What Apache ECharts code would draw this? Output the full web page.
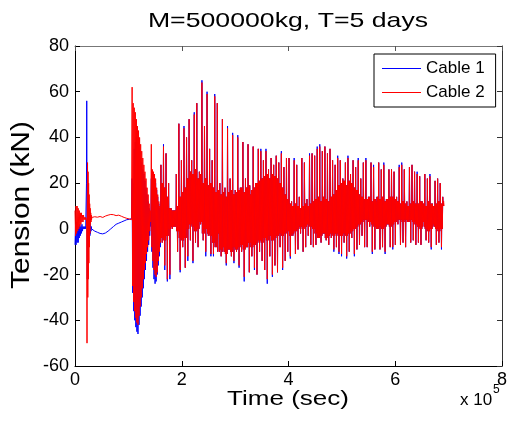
<!DOCTYPE html>
<html><head><meta charset="utf-8">
<script src="https://cdn.jsdelivr.net/npm/echarts@6/dist/echarts.min.js"></script>
<style>html,body{margin:0;padding:0;background:#fff}#c{width:511px;height:421px}</style>
</head><body><div id="c"></div><script>
// ---- data (time in seconds, tension in kN) ----
const xTickLabels = ['0', '2', '4', '6', '8'];      // × 10^5 s
const yTickValues = [-60, -40, -20, 0, 20, 40, 60, 80];
const seriesNames = ['Cable 1', 'Cable 2'];
const titleText = 'M=500000kg, T=5 days';
const xName = 'Time (sec)';
const yName = 'Tension (kN)';

// segment start times and sample steps (s)
const segStart = [0, 21000, 32000, 103000, 143000, 161000];
const segStep  = [1000, 500, 5000, 1000, 1000, 800];

// secondary (small) oscillation inside each big cycle of the steady part
const bandHigh = [
  20, 18, 14, 9, 8, 8, 10, 14, 16, 18,
  22, 25, 24, 26, 22, 24, 20, 22, 19, 20,
  18, 16, 17, 15, 16, 14, 16, 17, 15, 16,
  17, 18, 16, 18, 19, 17, 18, 20, 21, 22,
  23, 24, 22, 24, 23, 22, 20, 18, 15, 13,
  11, 10, 11, 10, 9, 10, 11, 10, 11, 12,
  13, 14, 12, 14, 13, 12, 14, 15, 17, 19,
  20, 21, 19, 21, 20, 18, 17, 15, 14, 13,
  13, 14, 12, 13, 14, 13, 14, 12, 13, 14,
  14, 13, 12, 11, 12, 11, 10, 11, 12, 11,
  11, 12, 11, 10, 12, 11, 10, 11, 12, 11, 12];
const bandLow = [
  -4, -5, -3, 0, 1, 1, -1, -4, -5, -4,
  0, 2, 1, -1, 0, 3, -2, 0, -2, -3,
  -6, -8, -10, -9, -10, -11, -9, -10, -8, -9,
  -8, -7, -9, -8, -6, -8, -7, -6, -5, -6,
  -4, -5, -3, -5, -4, -3, -2, -3, -2, -1,
  -3, -2, -1, 0, 1, 0, 1, 2, 1, 0,
  -2, -4, -3, -2, -4, -3, -2, -3, -2, -3,
  -3, -2, -3, -2, -1, 0, 1, 2, 3, 4,
  4, 3, 2, 1, 0, 1, 0, 1, 2, 1,
  2, 3, 4, 4, 3, 4, 3, 4, 3, 2,
  1, 0, 1, 0, -1, 0, 1, 0, -1, 0, 10];

// Cable 1 (blue)
const cable1A = [-7, 2, -7, 3, -6, 2, -6, 1, -4, 2, -3, 1, -2, 2, -1, 1, 0, 1, 0, 1, 0];
const cable1B = [0, 20, 56, 10, -22, 12, -15, 9, -10, 6, -7, 4, -5, 3, -3, 2, -2, 1, -1, 1, 0, 0, 0];
const cable1C = [0, -1, -1.5, -2, -2.2, -1.8, -1, 0, 1, 2, 2.5, 3, 3.5, 4, 4.2];
const cable1D = [4.2, 4.3, 4.4, 4.5, 22, -28, 20, -36, 35, -40, 38, -43, 40, -45, 38, -46, 36, -42, 34, -38, 31, -34, 29, -30, 26, -26, 24, -22, 21, -18, 18, -14, 15, -10, 12, -7, 9, -3, 6, 1];
const cable1E = [22, -10, 24, -17, 23, -22, 22, -24, 20, -23, 17, -20, 14, -16, 11, -12, 9, -8];
const cable1Peaks = [
  28, 37, 33, 20, 9, 8, 24, 46, 30, 45,
  40, 48, 30, 51, 55, 25, 65, 45, 60, 35,
  30, 59, 55, 20, 48, 18, 45, 22, 42, 17,
  41, 18, 38, 22, 37, 15, 36, 20, 35, 35,
  30, 35, 26, 31, 28, 32, 29, 34, 27, 31,
  31, 12, 31, 28, 14, 31, 29, 13, 33, 33,
  32, 36, 37, 34, 36, 33, 35, 30, 28, 32,
  30, 22, 29, 32, 24, 30, 27, 31, 22, 29,
  31, 14, 29, 28, 12, 29, 26, 29, 13, 26,
  26, 25, 14, 28, 29, 26, 12, 27, 28, 25,
  25, 23, 12, 24, 22, 24, 11, 21, 22, 20, 14];
const cable1Troughs = [
  -6, -18, -23, -22, 0, 1, -10, -19, -8, -17,
  -14, -5, -15, -6, -8, 2, -5, -12, -3, -12,
  -12, -4, -2, -12, -8, -16, -9, -12, -15, -10,
  -17, -10, -23, -8, -19, -12, -18, -20, -10, -14,
  -18, -24, -12, -21, -16, -19, -8, -18, -14, -10,
  -13, -3, -11, -9, -2, -10, -8, -3, -7, -8,
  -7, -4, -6, -2, -5, -7, -4, -10, -8, -11,
  -12, -6, -13, -10, -4, -12, -9, -7, -3, -8,
  -8, 1, -11, -9, 0, -9, -8, -11, 2, -8,
  -9, -7, 2, -7, -6, -8, 3, -6, -5, -7,
  -6, -7, 3, -5, -6, -9, 2, -7, -6, -9, 12];

// Cable 2 (red)
const cable2A = [8, -3, 10, -2, 10, -1, 9, 0, 8, 1, 7, 2, 7, 3, 6, 3, 6, 4, 5, 4, 5];
const cable2B = [5, 4, 0, -50, 10, 29, -30, 25, -22, 20, -15, 15, -8, 11, -2, 9, 2, 7, 3, 6, 4, 5, 5];
const cable2C = [5, 5.3, 5.1, 5.4, 5.0, 5.6, 6.0, 6.3, 6.2, 5.8, 6.0, 5.5, 5.0, 4.6, 4.3];
const cable2D = [4.3, 4.2, 4.0, 4.0, 62, -25, 55, -32, 53, -36, 51, -39, 48, -41, 45, -42, 43, -38, 40, -34, 37, -30, 34, -26, 31, -22, 28, -18, 25, -15, 22, -11, 18, -8, 15, -5, 11, -1, 8, 3];
const cable2E = [37, -8, 26, -14, 25, -18, 24, -20, 22, -21, 18, -19, 15, -14, 12, -10, 10, -6];
const cable2Peaks = [
  28, 36, 33, 20, 9, 8, 24, 46, 30, 44,
  40, 48, 30, 50, 55, 25, 64, 45, 59, 35,
  30, 58, 55, 20, 48, 18, 44, 22, 41, 17,
  40, 18, 38, 22, 37, 15, 36, 20, 35, 34,
  30, 34, 26, 31, 28, 32, 29, 33, 27, 31,
  31, 12, 30, 28, 14, 31, 29, 13, 32, 33,
  32, 35, 36, 34, 36, 33, 35, 30, 28, 31,
  30, 22, 29, 31, 24, 30, 27, 30, 22, 29,
  30, 14, 29, 27, 12, 29, 26, 28, 13, 26,
  26, 25, 14, 27, 28, 26, 12, 27, 28, 25,
  24, 23, 12, 24, 22, 23, 11, 21, 22, 20, 14];
const cable2Troughs = [
  -6, -16, -22, -20, 0, 1, -10, -18, -8, -17,
  -12, -5, -14, -6, -8, 2, -5, -10, -3, -11,
  -11, -4, -2, -12, -8, -15, -9, -12, -14, -10,
  -16, -10, -21, -8, -19, -12, -17, -20, -10, -14,
  -18, -22, -12, -20, -16, -19, -8, -17, -14, -10,
  -12, -3, -11, -9, -2, -10, -8, -3, -7, -8,
  -7, -4, -6, -2, -5, -7, -4, -9, -8, -10,
  -11, -6, -12, -10, -4, -11, -9, -7, -3, -8,
  -8, 1, -10, -9, 0, -9, -8, -10, 2, -8,
  -8, -7, 2, -7, -6, -8, 3, -6, -5, -7,
  -6, -7, 3, -5, -6, -8, 2, -7, -6, -8, 10];

// ---- build series points ----
function build(segs, peaks, troughs) {
  const out = [];
  segs.forEach((vals, s) => vals.forEach((v, i) => out.push([segStart[s] + i * segStep[s], v])));
  const t0 = segStart[5], dt = segStep[5];
  peaks.forEach((p, j) => {
    const base = t0 + j * 6 * dt;
    const last = j === peaks.length - 1;
    out.push([base, p]);
    out.push([base + dt, bandLow[j]]);
    out.push([base + 2 * dt, bandHigh[j]]);
    out.push([base + 3 * dt, troughs[j]]);
    if (!last) {
      out.push([base + 4 * dt, bandHigh[j]]);
      out.push([base + 5 * dt, bandLow[j]]);
    }
  });
  return out;
}
const data1 = build([cable1A, cable1B, cable1C, cable1D, cable1E], cable1Peaks, cable1Troughs);
const data2 = build([cable2A, cable2B, cable2C, cable2D, cable2E], cable2Peaks, cable2Troughs);

const FONT = 'Liberation Sans, Arial, sans-serif';
const chart = echarts.init(document.getElementById('c'), null, {renderer: 'canvas'});
const xCommon = {type: 'value', min: 0, max: 800000, interval: 200000, splitLine: {show: false}};
const yCommon = {type: 'value', min: -60, max: 80, interval: 20, splitLine: {show: false}};
chart.setOption({
  animation: false,
  backgroundColor: '#fff',
  grid: {left: 75, right: 9, top: 46, bottom: 55, containLabel: false},
  legend: {
    orient: 'vertical', left: 374, top: 54,
    padding: [6, 11, 6, 8], itemGap: 7, itemWidth: 39, itemHeight: 1,
    borderColor: '#000', borderWidth: 1, backgroundColor: '#fff',
    icon: 'rect',
    textStyle: {fontFamily: FONT, fontSize: 17, color: '#000'},
    data: seriesNames
  },
  xAxis: [
    Object.assign({}, xCommon, {
      position: 'bottom',
      axisLine: {onZero: false, lineStyle: {color: '#000', width: 1}},
      axisTick: {inside: true, length: 5, lineStyle: {color: '#000'}},
      axisLabel: {fontFamily: FONT, fontSize: 18, color: '#000', margin: 5,
        formatter: v => xTickLabels[Math.round(v / 200000)]}
    }),
    Object.assign({}, xCommon, {
      position: 'top',
      axisLine: {onZero: false, lineStyle: {color: '#777', width: 1}},
      axisTick: {inside: true, length: 5, lineStyle: {color: '#555'}},
      axisLabel: {show: false}
    })
  ],
  yAxis: [
    Object.assign({}, yCommon, {
      position: 'left',
      axisLine: {show: true, onZero: false, lineStyle: {color: '#000', width: 1}},
      axisTick: {show: true, inside: true, length: 5, lineStyle: {color: '#000'}},
      axisLabel: {fontFamily: FONT, fontSize: 18, color: '#000', margin: 6,
        formatter: v => yTickValues.includes(v) ? String(v) : ''}
    }),
    Object.assign({}, yCommon, {
      position: 'right',
      axisLine: {show: true, onZero: false, lineStyle: {color: '#333', width: 1}},
      axisTick: {show: true, inside: true, length: 5, lineStyle: {color: '#333'}},
      axisLabel: {show: false}
    })
  ],
  graphic: [
    {type: 'text', x: 288, y: 21, scaleX: 1.27,
     style: {text: titleText, font: '21px ' + FONT, fill: '#000', align: 'center', verticalAlign: 'middle'}},
    {type: 'text', x: 288, y: 399, scaleX: 1.27,
     style: {text: xName, font: '20.5px ' + FONT, fill: '#000', align: 'center', verticalAlign: 'middle'}},
    {type: 'text', x: 22, y: 205, rotation: Math.PI / 2, scaleX: 1.15,
     style: {text: yName, font: '26px ' + FONT, fill: '#000', align: 'center', verticalAlign: 'middle'}},
    {type: 'text', x: 460, y: 400,
     style: {text: 'x 10', font: '17px ' + FONT, fill: '#000', align: 'left', verticalAlign: 'middle'}},
    {type: 'text', x: 493, y: 390,
     style: {text: '5', font: '12px ' + FONT, fill: '#000', align: 'left', verticalAlign: 'middle'}}
  ],
  series: [
    {name: seriesNames[0], type: 'line', data: data1, showSymbol: false, symbol: 'none',
     xAxisIndex: 0, yAxisIndex: 0,
     lineStyle: {color: '#0000ff', width: 1}, itemStyle: {color: '#0000ff'}, z: 2},
    {name: seriesNames[1], type: 'line', data: data2, showSymbol: false, symbol: 'none',
     xAxisIndex: 0, yAxisIndex: 0,
     lineStyle: {color: '#ff0000', width: 1}, itemStyle: {color: '#ff0000'}, z: 3}
  ]
});
</script></body></html>
